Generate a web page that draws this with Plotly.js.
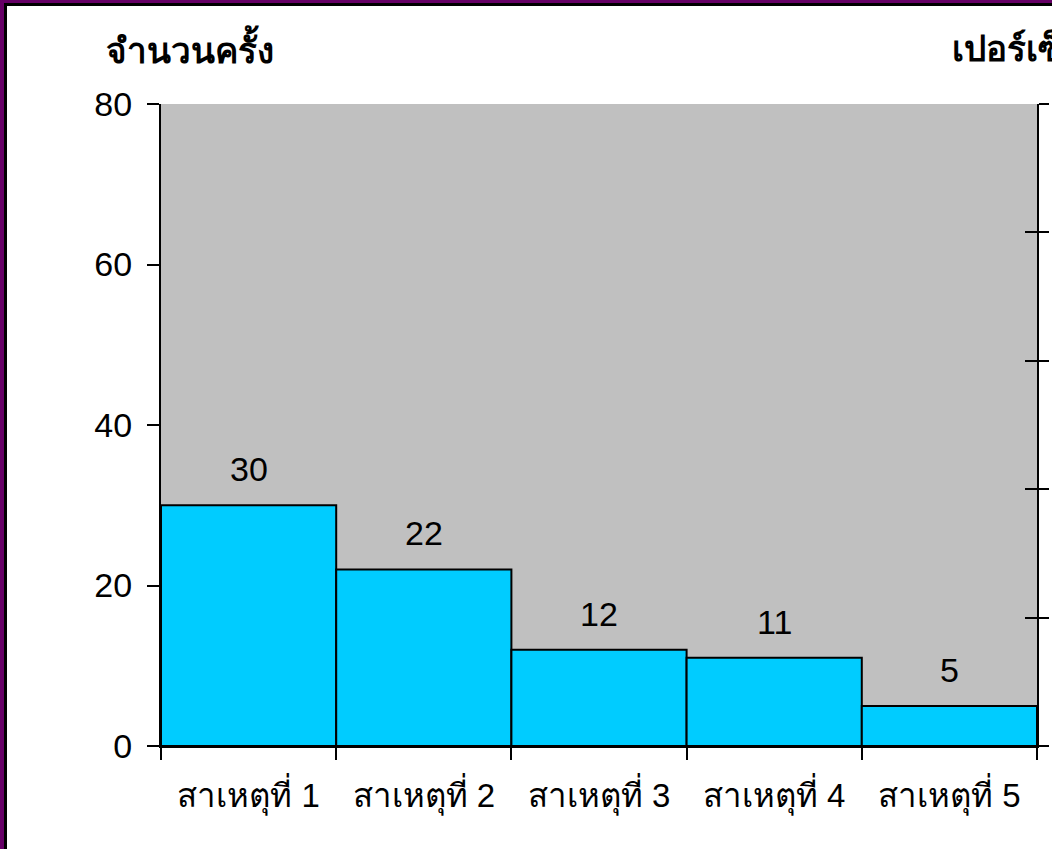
<!DOCTYPE html>
<html><head><meta charset="utf-8">
<script src="https://cdn.plot.ly/plotly-3.0.1.min.js"></script>
<style>
html,body{margin:0;padding:0;background:#fff;overflow:hidden;}
#frame{position:absolute;left:0;top:0;width:1100px;height:900px;border-left:4px solid #660066;border-top:3px solid #660066;box-sizing:border-box;}
#inner{position:absolute;left:0;top:0;width:1100px;height:900px;border-left:3px solid #000;border-top:3px solid #000;box-sizing:border-box;}
#chart{position:absolute;left:0;top:0;width:1052px;height:849px;}
</style></head>
<body>
<div id="frame"><div id="inner"></div></div>
<div id="chart"></div>
<script>
const categories = ["สาเหตุที่ 1","สาเหตุที่ 2","สาเหตุที่ 3","สาเหตุที่ 4","สาเหตุที่ 5"];
const counts = [30, 22, 12, 11, 5];
const leftTitle = "จำนวนครั้ง";
const rightTitle = "เปอร์เซ็นต์";

const FONT = "Liberation Sans, Arial, Noto Sans, sans-serif";
const W = 1052, H = 849;
const m = {l:161, r:15, t:104, b:103};
const pw = W - m.l - m.r, ph = H - m.t - m.b;

const trace = {
  type: "bar", x: categories, y: counts,
  marker: {color: "#00CCFF", line: {color: "#000", width: 2}},
  hoverinfo: "none", showlegend: false
};
const t2 = {type:"scatter", x:[categories[0]], y:[0], yaxis:"y2", mode:"markers", marker:{opacity:0}, showlegend:false, hoverinfo:"none"};
const t3 = {type:"scatter", x:[categories[0]], y:[0], yaxis:"y3", mode:"markers", marker:{opacity:0}, showlegend:false, hoverinfo:"none"};

const annotations = categories.map((c,i)=>({
  x: c, y: counts[i], xref:"x", yref:"y", text: String(counts[i]),
  showarrow:false, yanchor:"bottom", yshift: 15,
  font:{family:FONT, size:34, color:"#000"}
}));
annotations.push({
  xref:"paper", yref:"paper", x:(104-m.l)/pw, y:1+(104-48)/ph, xanchor:"left", yanchor:"middle",
  text:"<b>"+leftTitle+"</b>", showarrow:false, font:{family:FONT, size:35, color:"#000"}
});
annotations.push({
  xref:"paper", yref:"paper", x:(950-m.l)/pw, y:1+(104-48)/ph, xanchor:"left", yanchor:"middle",
  text:"<b>"+rightTitle+"</b>", showarrow:false, font:{family:FONT, size:35, color:"#000"}
});

const layout = {
  width: W, height: H, margin: m,
  paper_bgcolor: "rgba(0,0,0,0)", plot_bgcolor: "#C0C0C0",
  bargap: 0,
  font: {family: FONT, size: 30, color: "#000"},
  xaxis: {
    type:"category", tickson:"boundaries", ticks:"outside", ticklen:12, tickwidth:2, tickcolor:"#000",
    showline:true, linecolor:"#000", linewidth:2, showgrid:false, zeroline:false,
    tickfont:{family:FONT, size:33}, ticklabelstandoff: 19, fixedrange:true
  },
  yaxis: {
    range:[0,80], dtick:20, ticks:"outside", ticklen:12, tickwidth:2, tickcolor:"#000",
    showline:true, linecolor:"#000", linewidth:2, showgrid:false, zeroline:false,
    tickfont:{family:FONT, size:34}, ticklabelstandoff: 8, fixedrange:true
  },
  yaxis2: {
    overlaying:"y", side:"right", range:[0,100], dtick:20, ticks:"outside", ticklen:10, tickwidth:2, tickcolor:"#000",
    showline:true, linecolor:"#000", linewidth:2, showgrid:false, zeroline:false, showticklabels:false, fixedrange:true
  },
  yaxis3: {
    overlaying:"y", side:"right", range:[0,100], dtick:20, ticks:"inside", ticklen:12, tickwidth:2, tickcolor:"#000",
    showline:false, showgrid:false, zeroline:false, showticklabels:false, fixedrange:true
  },
  annotations: annotations
};
Plotly.newPlot("chart", [trace, t2, t3], layout, {displayModeBar:false, staticPlot:true});
</script>
</body></html>
